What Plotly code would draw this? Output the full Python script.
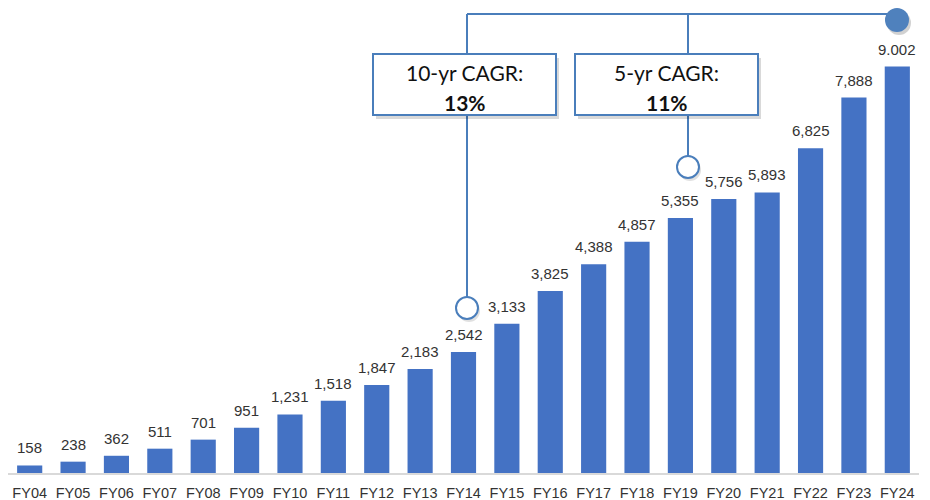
import plotly.graph_objects as go

# ---- data ----
fiscal_years = ["FY04", "FY05", "FY06", "FY07", "FY08", "FY09", "FY10", "FY11", "FY12", "FY13", "FY14",
                "FY15", "FY16", "FY17", "FY18", "FY19", "FY20", "FY21", "FY22", "FY23", "FY24"]
# bar heights as drawn (the FY24 bar is drawn shorter than its label)
bar_heights = [158, 238, 362, 511, 701, 951, 1231, 1518, 1847, 2183, 2542,
               3133, 3825, 4388, 4857, 5355, 5756, 5893, 6825, 7888, 8540]
value_labels = ["158", "238", "362", "511", "701", "951", "1,231", "1,518", "1,847", "2,183", "2,542",
                "3,133", "3,825", "4,388", "4,857", "5,355", "5,756", "5,893", "6,825", "7,888", "9.002"]
cagr_titles = ["10-yr CAGR:", "5-yr CAGR:"]
cagr_values = ["13%", "11%"]

# ---- layout geometry (pixels) ----
W, H = 930, 500
ML, MR, MT, MB = 8, 11, 0, 27
PW, PH = W - ML - MR, H - MT - MB
Y_MAX = 9937

BLUE = "#4472C4"
LINE_BLUE = "#4A7EBB"
TXT = "#333333"


def px(x):
    return (x - ML) / PW


def py(y):
    return (H - MB - y) / PH


fig = go.Figure()
fig.add_trace(go.Bar(
    x=fiscal_years, y=bar_heights, marker=dict(color=BLUE, line=dict(width=0)),
    hoverinfo="skip", showlegend=False,
))

annotations = []
for cat, h, lab in zip(fiscal_years, bar_heights, value_labels):
    annotations.append(dict(
        x=cat, y=h, xref="x", yref="y", text=lab, showarrow=False,
        yanchor="bottom", yshift=7,
        font=dict(family="Liberation Sans, Arial, sans-serif", size=15, color=TXT),
    ))

shapes = []
# connector lines
line_style = dict(color=LINE_BLUE, width=2)
shapes.append(dict(type="line", xref="paper", yref="paper", x0=px(467), x1=px(897), y0=py(14), y1=py(14), line=line_style))
shapes.append(dict(type="line", xref="paper", yref="paper", x0=px(467), x1=px(467), y0=py(14), y1=py(297), line=line_style))
shapes.append(dict(type="line", xref="paper", yref="paper", x0=px(688), x1=px(688), y0=py(14), y1=py(156), line=line_style))


def circle(cx, cy, r, fill, dx=0, dy=0, lc=LINE_BLUE, lw=2):
    return dict(type="circle", xref="paper", yref="paper",
                x0=px(cx - r + dx), x1=px(cx + r + dx), y0=py(cy + r + dy), y1=py(cy - r + dy),
                fillcolor=fill, line=dict(color=lc, width=lw))


shapes.append(circle(467, 308, 11, "rgba(0,0,0,0.12)", 2, 3, lc="rgba(0,0,0,0)", lw=0))
shapes.append(circle(467, 308, 11, "white"))
shapes.append(circle(688, 167, 11, "rgba(0,0,0,0.12)", 2, 3, lc="rgba(0,0,0,0)", lw=0))
shapes.append(circle(688, 167, 11, "white"))
shapes.append(circle(897, 20, 12, "rgba(0,0,0,0.18)", 2, 3, lc="rgba(0,0,0,0)", lw=0))
shapes.append(circle(897, 20, 12, "#4F81BD", lw=0, lc="rgba(0,0,0,0)"))

# boxes
boxes = [(373, 556), (575, 758)]
BT, BB = 54, 115
for (x0, x1), t, v in zip(boxes, cagr_titles, cagr_values):
    shapes.append(dict(type="rect", xref="paper", yref="paper",
                       x0=px(x0 + 3), x1=px(x1 + 3), y0=py(BB + 4), y1=py(BT + 4),
                       fillcolor="rgba(0,0,0,0.15)", line=dict(width=0)))
    shapes.append(dict(type="rect", xref="paper", yref="paper",
                       x0=px(x0), x1=px(x1), y0=py(BB), y1=py(BT),
                       fillcolor="white", line=dict(color=LINE_BLUE, width=2)))
    cx = (x0 + x1) / 2
    annotations.append(dict(x=px(cx), y=py(73), xref="paper", yref="paper", text=t, showarrow=False,
                            xanchor="center", yanchor="middle",
                            font=dict(family="Lato, sans-serif", size=21, color="#111111")))
    annotations.append(dict(x=px(cx), y=py(102), xref="paper", yref="paper", text="<b>" + v + "</b>",
                            showarrow=False, xanchor="center", yanchor="middle",
                            font=dict(family="Lato, sans-serif", size=21, color="#111111")))

fig.update_layout(
    width=W, height=H,
    margin=dict(l=ML, r=MR, t=MT, b=MB, pad=0),
    paper_bgcolor="white", plot_bgcolor="white",
    bargap=0.42,
    xaxis=dict(type="category", showgrid=False, showline=True, linecolor="#D9D9D9", linewidth=1.5,
               ticks="", ticklabelstandoff=6,
               tickfont=dict(family="Liberation Sans, Arial, sans-serif", size=14.5, color=TXT),
               fixedrange=True),
    yaxis=dict(range=[0, Y_MAX], visible=False, showgrid=False, zeroline=False, fixedrange=True),
    shapes=shapes,
    annotations=annotations,
    showlegend=False,
)

fig.write_html("out.html", config={"displayModeBar": False},
               post_script="document.body.style.margin='0';document.body.style.overflow='hidden';")
